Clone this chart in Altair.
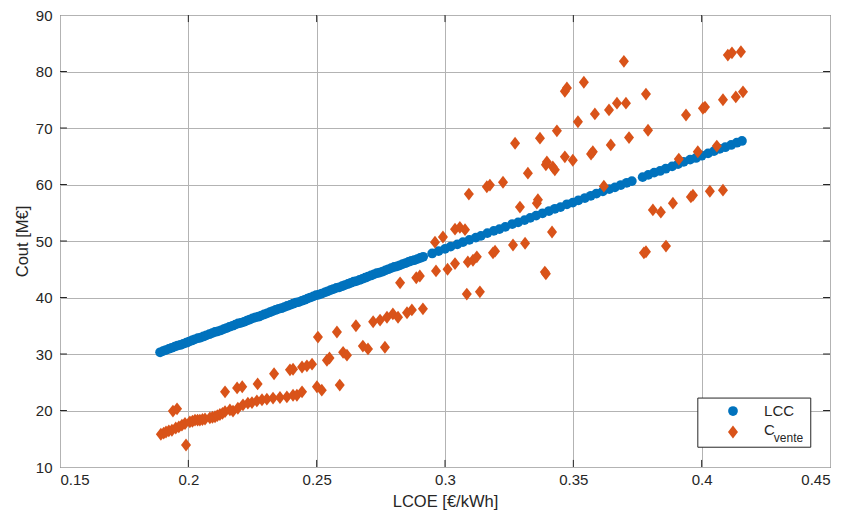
import altair as alt
import pandas as pd

# ---- data ----
lcoe_lcc = [0.1890, 0.1901, 0.1912, 0.1924, 0.1935, 0.1947, 0.1958, 0.1969, 0.1980, 0.1992,
            0.2003, 0.2014, 0.2025, 0.2037, 0.2048, 0.2059, 0.2070, 0.2082, 0.2093, 0.2104,
            0.2115, 0.2127, 0.2138, 0.2149, 0.2160, 0.2172, 0.2183, 0.2194, 0.2205, 0.2217,
            0.2228, 0.2239, 0.2250, 0.2262, 0.2273, 0.2284, 0.2295, 0.2307, 0.2318, 0.2329,
            0.2340, 0.2352, 0.2363, 0.2374, 0.2385, 0.2397, 0.2408, 0.2419, 0.2430, 0.2442,
            0.2453, 0.2464, 0.2475, 0.2487, 0.2498, 0.2509, 0.2520, 0.2532, 0.2543, 0.2554,
            0.2565, 0.2577, 0.2588, 0.2599, 0.2610, 0.2622, 0.2633, 0.2644, 0.2655, 0.2667,
            0.2678, 0.2689, 0.2700, 0.2712, 0.2723, 0.2734, 0.2745, 0.2757, 0.2768, 0.2779,
            0.2790, 0.2802, 0.2813, 0.2824, 0.2835, 0.2847, 0.2858, 0.2869, 0.2880, 0.2892,
            0.2903, 0.2915,
            0.2950, 0.2975, 0.3000, 0.3022, 0.3048, 0.3070, 0.3095, 0.3120, 0.3140, 0.3165,
            0.3190, 0.3212, 0.3235, 0.3262, 0.3285, 0.3310, 0.3332, 0.3355, 0.3380, 0.3405,
            0.3428, 0.3450, 0.3475, 0.3498, 0.3520, 0.3545, 0.3568, 0.3590, 0.3615, 0.3640,
            0.3662, 0.3685, 0.3708, 0.3728,
            0.3770, 0.3792, 0.3815, 0.3838, 0.3860, 0.3885, 0.3908, 0.3930, 0.3955, 0.3978,
            0.4000, 0.4025, 0.4048, 0.4070, 0.4092, 0.4115, 0.4137, 0.4157]
lcc = [30.3, 30.5, 30.7, 30.9, 31.1, 31.3, 31.5, 31.6, 31.8, 32.0,
       32.2, 32.4, 32.6, 32.8, 32.9, 33.1, 33.3, 33.5, 33.7, 33.9,
       34.0, 34.2, 34.4, 34.6, 34.8, 35.0, 35.2, 35.4, 35.5, 35.7,
       35.9, 36.1, 36.3, 36.5, 36.6, 36.8, 37.0, 37.2, 37.4, 37.6,
       37.8, 38.0, 38.1, 38.3, 38.5, 38.7, 38.9, 39.1, 39.2, 39.4,
       39.6, 39.8, 40.0, 40.2, 40.4, 40.5, 40.7, 40.9, 41.1, 41.3,
       41.5, 41.7, 41.8, 42.0, 42.2, 42.4, 42.6, 42.8, 42.9, 43.1,
       43.3, 43.5, 43.7, 43.9, 44.1, 44.3, 44.4, 44.6, 44.8, 45.0,
       45.2, 45.4, 45.5, 45.7, 45.9, 46.1, 46.3, 46.5, 46.6, 46.8,
       47.0, 47.2,
       47.8, 48.2, 48.6, 49.0, 49.4, 49.8, 50.2, 50.6, 50.9, 51.4,
       51.8, 52.1, 52.5, 53.0, 53.3, 53.7, 54.1, 54.5, 54.9, 55.3,
       55.7, 56.0, 56.5, 56.8, 57.2, 57.6, 58.0, 58.4, 58.8, 59.2,
       59.5, 59.9, 60.3, 60.6,
       61.3, 61.7, 62.1, 62.4, 62.8, 63.2, 63.6, 64.0, 64.4, 64.7,
       65.1, 65.5, 65.9, 66.3, 66.6, 67.0, 67.4, 67.7]

lcoe_cv = [0.1893, 0.1904, 0.1913, 0.1924, 0.1936, 0.1951, 0.1963, 0.1940, 0.1956, 0.1991,
           0.1975, 0.1987, 0.2006, 0.2016, 0.2026, 0.2036, 0.2045, 0.2055, 0.2065, 0.2084,
           0.2094, 0.2104, 0.2113, 0.2123, 0.2133, 0.2143, 0.2162,
           0.2174, 0.2193, 0.2213, 0.2232, 0.2248, 0.2267, 0.2287, 0.2306, 0.2330, 0.2357,
           0.2384, 0.2408, 0.2423, 0.2443, 0.2501, 0.2520, 0.2590,
           0.2143, 0.2190, 0.2210, 0.2270, 0.2334, 0.2396, 0.2408, 0.2443, 0.2462, 0.2482,
           0.2540, 0.2550, 0.2505, 0.2579, 0.2603, 0.2618, 0.2680, 0.2700, 0.2766, 0.2653,
           0.2720, 0.2747, 0.2774, 0.2797, 0.2817, 0.2852, 0.2871, 0.2914, 0.2825, 0.2888,
           0.2902, 0.2965, 0.3010, 0.3039, 0.3089, 0.3109, 0.3124, 0.3085, 0.3136, 0.2961,
           0.2992, 0.3039, 0.3058, 0.3078, 0.3093, 0.3163, 0.3175, 0.3226, 0.3187, 0.3195,
           0.3265, 0.3312, 0.3292, 0.3273, 0.3323, 0.3362, 0.3358, 0.3370, 0.3397, 0.3393,
           0.3420, 0.3428, 0.3417, 0.3389, 0.3393, 0.3436, 0.3467, 0.3467, 0.3475, 0.3498,
           0.3518, 0.3541, 0.3569, 0.3576, 0.3584, 0.3619, 0.3639, 0.3646, 0.3670, 0.3705,
           0.3697, 0.3717, 0.3783, 0.3791, 0.3810, 0.3841, 0.3775, 0.3783, 0.3861, 0.3888,
           0.3911, 0.3939, 0.3958, 0.3966, 0.3985, 0.4005, 0.4013, 0.4032, 0.4059, 0.4083,
           0.4083, 0.4102, 0.4118, 0.4133, 0.4153, 0.4161]
cvente = [15.8, 16.0, 16.2, 16.4, 16.5, 16.9, 17.1, 19.9, 20.3, 13.9,
          17.4, 17.7, 18.0, 18.1, 18.3, 18.3, 18.3, 18.4, 18.5, 18.7,
          18.8, 18.9, 19.1, 19.3, 19.5, 19.8, 20.1,
          19.9, 20.4, 21.0, 21.3, 21.4, 21.7, 21.9, 22.0, 22.2, 22.3,
          22.4, 22.7, 22.7, 23.3, 24.2, 23.6, 24.5,
          23.3, 24.0, 24.2, 24.7, 26.5, 27.2, 27.3, 27.7, 27.9, 28.2,
          28.9, 29.3, 33.0, 33.9, 30.3, 29.8, 31.4, 30.9, 31.2, 35.0,
          35.7, 36.0, 36.5, 37.1, 36.5, 37.3, 37.8, 38.0, 42.6, 43.5,
          43.8, 44.7, 45.0, 46.0, 46.3, 46.6, 47.2, 40.6, 41.0, 49.8,
          50.7, 52.1, 52.4, 52.0, 58.3, 59.6, 59.9, 60.4, 47.9, 48.2,
          49.3, 49.6, 56.0, 67.3, 62.0, 57.3, 56.7, 68.2, 64.0, 63.5,
          63.1, 62.6, 51.6, 44.5, 44.2, 69.5, 64.9, 76.5, 77.1, 64.3,
          71.1, 78.1, 65.4, 65.8, 72.5, 59.7, 73.2, 67.0, 74.4, 74.4,
          81.8, 68.3, 76.0, 69.6, 55.5, 55.1, 47.9, 48.1, 49.1, 56.7,
          64.5, 72.3, 57.8, 58.1, 65.8, 73.5, 73.7, 58.8, 66.8, 59.0,
          75.0, 82.9, 83.3, 75.5, 83.5, 76.4]

x_ticks = [0.15, 0.2, 0.25, 0.3, 0.35, 0.4, 0.45]
y_ticks = [10, 20, 30, 40, 50, 60, 70, 80, 90]

BLUE = "#0072BD"
ORANGE = "#D95319"
DARK = "#262626"
FONT = "Liberation Sans"
DIAMOND = "M0,-1L0.78,0L0,1L-0.78,0Z"
CIRCLE_SIZE = 95
DIAMOND_SIZE = 165

xs = alt.Scale(domain=[0.15, 0.45], nice=False, zero=False)
ys = alt.Scale(domain=[10, 90], nice=False, zero=False)
xax = alt.Axis(values=x_ticks, format=".2~f", title="LCOE [€/kWh]", labelPadding=5, titlePadding=6)
yax = alt.Axis(values=y_ticks, title="Cout [M€]", labelPadding=8, titlePadding=5)

def X(f="LCOE"):
    return alt.X(f"{f}:Q", scale=xs, axis=xax)

def Y(f="Cout"):
    return alt.Y(f"{f}:Q", scale=ys, axis=yax)

df_lcc = pd.DataFrame({"LCOE": lcoe_lcc, "Cout": lcc})
df_cv = pd.DataFrame({"LCOE": lcoe_cv, "Cout": cvente})

lcc_layer = alt.Chart(df_lcc).mark_point(shape="circle", filled=True, size=CIRCLE_SIZE, color=BLUE,
                                         opacity=1, strokeWidth=0).encode(x=X(), y=Y())
cv_layer = alt.Chart(df_cv).mark_point(shape=DIAMOND, filled=True, size=DIAMOND_SIZE, color=ORANGE,
                                       opacity=1, strokeWidth=0).encode(x=X(), y=Y())

# inward tick marks (MATLAB style), in data units
tick_v = pd.DataFrame({
    "LCOE": x_ticks[1:-1] * 2,
    "Cout": [10] * 5 + [90] * 5,
    "Cout2": [11.25] * 5 + [88.75] * 5,
})
tick_h = pd.DataFrame({
    "Cout": y_ticks[1:-1] * 2,
    "LCOE": [0.15] * 7 + [0.45] * 7,
    "LCOE2": [0.1527] * 7 + [0.4473] * 7,
})
ticks_v = alt.Chart(tick_v).mark_rule(color=DARK, strokeWidth=1).encode(x=X(), y=Y(), y2="Cout2:Q")
ticks_h = alt.Chart(tick_h).mark_rule(color=DARK, strokeWidth=1).encode(y=Y(), x=X(), x2="LCOE2:Q")

# legend box (data coordinates)
leg_box = alt.Chart(pd.DataFrame({"LCOE": [0.3985], "LCOE2": [0.4425], "Cout": [13.5], "Cout2": [22.2]})
                    ).mark_rect(fill="white", stroke=DARK, strokeWidth=1).encode(
    x=X(), x2="LCOE2:Q", y=Y(), y2="Cout2:Q")
leg_c = alt.Chart(pd.DataFrame({"LCOE": [0.4122], "Cout": [19.9]})).mark_point(
    shape="circle", filled=True, size=CIRCLE_SIZE, color=BLUE, opacity=1, strokeWidth=0).encode(x=X(), y=Y())
leg_d = alt.Chart(pd.DataFrame({"LCOE": [0.4122], "Cout": [16.2]})).mark_point(
    shape=DIAMOND, filled=True, size=DIAMOND_SIZE, color=ORANGE, opacity=1, strokeWidth=0).encode(x=X(), y=Y())
leg_t1 = alt.Chart(pd.DataFrame({"LCOE": [0.4243], "Cout": [19.9], "t": ["LCC"]})).mark_text(
    align="left", baseline="middle", font=FONT, fontSize=15, color=DARK).encode(x=X(), y=Y(), text="t:N")
leg_t2 = alt.Chart(pd.DataFrame({"LCOE": [0.4243], "Cout": [16.6], "t": ["C"]})).mark_text(
    align="left", baseline="middle", font=FONT, fontSize=15, color=DARK).encode(x=X(), y=Y(), text="t:N")
leg_t3 = alt.Chart(pd.DataFrame({"LCOE": [0.4281], "Cout": [15.1], "t": ["vente"]})).mark_text(
    align="left", baseline="middle", font=FONT, fontSize=12, color=DARK).encode(x=X(), y=Y(), text="t:N")

chart = alt.layer(
    lcc_layer, cv_layer, ticks_v, ticks_h, leg_box, leg_c, leg_d, leg_t1, leg_t2, leg_t3
).properties(
    width=770, height=452,
    autosize=alt.AutoSizeParams(type="none"),
    padding={"left": 52, "top": 7, "right": 9, "bottom": 48},
).configure_view(
    stroke=DARK, strokeWidth=1
).configure_axis(
    grid=True, gridColor="#b3b3b3", gridWidth=1,
    domain=False, ticks=False,
    labelFont=FONT, labelFontSize=15, labelColor=DARK,
    titleFont=FONT, titleFontSize=16.5, titleFontWeight="normal", titleColor=DARK,
)

chart.save("out.html", embed_options={"renderer": "svg", "actions": False})
